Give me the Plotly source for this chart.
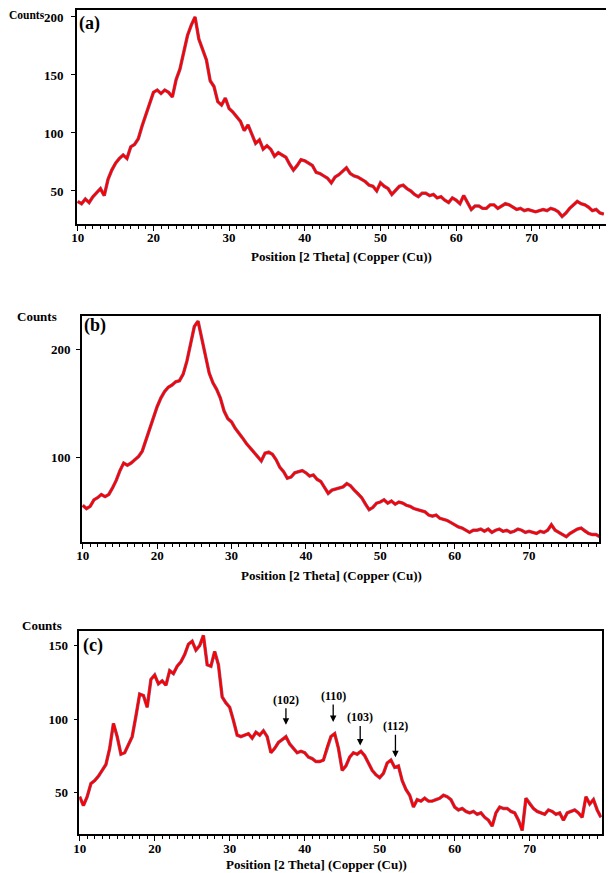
import numpy as np
import plotly.graph_objects as go

# 2-theta grid (degrees), 0.5 deg steps
two_theta = np.arange(10, 80, 0.5)

# counts
counts_a = [41, 39, 43, 40, 45, 49, 52, 46, 60, 68,
            74, 78, 81, 78, 88, 90, 95, 106, 116, 124,
            135, 137, 134, 137, 135, 131, 146, 155, 170, 184,
            193, 200, 181, 172, 163, 145, 140, 127, 124, 130,
            121, 118, 114, 110, 102, 107, 99, 91, 94, 86,
            89, 86, 80, 83, 81, 79, 73, 68, 72, 77,
            76, 74, 72, 66, 65, 63, 61, 57, 62, 64,
            67, 70, 65, 63, 62, 60, 58, 55, 54, 50,
            57, 54, 52, 47, 51, 54, 55, 52, 50, 47,
            45, 48, 48, 46, 47, 44, 45, 42, 40, 44,
            42, 39, 46, 40, 34, 37, 37, 35, 35, 38,
            38, 35, 37, 39, 38, 36, 34, 35, 33, 34,
            33, 32, 33, 34, 33, 35, 34, 32, 28, 31,
            35, 38, 41, 39, 38, 36, 33, 34, 31, 30]

counts_b = [56, 53, 55, 61, 63, 66, 64, 66, 72, 79,
            88, 95, 93, 95, 98, 101, 106, 116, 128, 138,
            147, 155, 161, 165, 167, 170, 171, 177, 189, 205,
            221, 226, 209, 193, 178, 169, 163, 155, 143, 136,
            133, 127, 123, 118, 113, 109, 104, 100, 97, 104,
            105, 103, 98, 91, 87, 81, 82, 86, 87, 88,
            86, 83, 84, 80, 78, 73, 67, 70, 71, 72,
            73, 76, 74, 70, 67, 63, 57, 52, 54, 58,
            59, 61, 58, 60, 57, 59, 58, 56, 55, 53,
            52, 51, 50, 47, 46, 47, 44, 43, 42, 40,
            38, 36, 35, 33, 31, 33, 33, 34, 32, 34,
            31, 33, 34, 32, 33, 31, 32, 34, 33, 31,
            32, 31, 30, 32, 31, 33, 38, 33, 31, 29,
            27, 30, 32, 34, 35, 32, 30, 29, 29, 27]

counts_c = [47, 41, 47, 56, 58, 61, 65, 69, 80, 97,
            88, 76, 77, 82, 88, 102, 117, 116, 108, 127,
            130, 124, 126, 123, 133, 131, 136, 139, 144, 151,
            153, 147, 150, 157, 137, 136, 146, 137, 115, 111,
            108, 99, 89, 88, 89, 90, 87, 91, 89, 92,
            88, 77, 80, 84, 86, 88, 83, 80, 77, 78,
            77, 74, 73, 71, 71, 72, 81, 88, 90, 80,
            65, 68, 74, 77, 76, 78, 75, 70, 65, 62,
            60, 63, 70, 72, 67, 68, 58, 52, 48, 40,
            45, 44, 46, 44, 44, 45, 46, 48, 47, 45,
            40, 38, 39, 37, 36, 37, 35, 36, 33, 31,
            27, 36, 40, 39, 39, 37, 36, 31, 24, 46,
            42, 39, 37, 36, 35, 38, 37, 35, 36, 31,
            36, 37, 38, 36, 33, 47, 42, 45, 38, 33]

# peak labels in pattern (c)
peak_labels = ["(102)", "(110)", "(103)", "(112)"]
peak_pos = [37.5, 43.8, 47.4, 52.1]
peak_tip = [96, 98, 82, 74]
peak_offset = [-25, -26, -28, -31]

# page body has an 8px margin, so the figure is 8px smaller than the window
OFF = 8
W, H = 614 - OFF, 873 - OFF
FONT = "Liberation Serif"


def fx(p):
    return (p - OFF) / W


def fy(p):
    return 1 - (p - OFF) / H


fig = go.Figure()

panels = [
    (counts_a, "x", "y"),
    (counts_b, "x2", "y2"),
    (counts_c, "x3", "y3"),
]
for vals, xa, ya in panels:
    fig.add_trace(go.Scatter(x=two_theta, y=vals, mode="lines", xaxis=xa, yaxis=ya,
                             line=dict(color="#8a5a80", width=3.4), hoverinfo="skip"))
    fig.add_trace(go.Scatter(x=two_theta, y=vals, mode="lines", xaxis=xa, yaxis=ya,
                             line=dict(color="#ff0000", width=2.2)))

tickfont = dict(family=FONT, size=13, color="black", weight="bold")


def xax(dom, rng, anchor):
    return dict(domain=dom, range=rng, anchor=anchor, showline=True, mirror=True,
                linecolor="black", linewidth=1.6, showgrid=False, zeroline=False,
                tick0=10, dtick=10, ticks="outside", ticklen=5, tickcolor="black",
                tickfont=tickfont, ticklabelstandoff=-4, automargin=False,
                minor=dict(dtick=1, ticks="outside", ticklen=3, tickcolor="black"))


def yax(dom, rng, vals, anchor, standoff):
    return dict(domain=dom, range=rng, anchor=anchor, showline=True, mirror=True,
                linecolor="black", linewidth=1.6, showgrid=False, zeroline=False,
                tickvals=vals, ticks="outside", ticklen=4, tickcolor="black",
                tickfont=tickfont, ticklabelstandoff=standoff, automargin=False)


fig.update_layout(
    width=W, height=H, margin=dict(l=0, r=0, t=0, b=0),
    plot_bgcolor="white", paper_bgcolor="white", showlegend=False,
    xaxis=xax([fx(77), fx(606)], [9.9, 79.8], "y"),
    yaxis=yax([fy(224), fy(10)], [21.5, 206], [50, 100, 150, 200], "x", 5),
    xaxis2=xax([fx(82), fx(599)], [9.9, 79.4], "y2"),
    yaxis2=yax([fy(541.7), fy(315.7)], [22.4, 231], [100, 200], "x2", 3),
    xaxis3=xax([fx(79.3), fx(601.7)], [9.95, 79.6], "y3"),
    yaxis3=yax([fy(834.3), fy(630.7)], [21.4, 160.2], [50, 100, 150], "x3", 3),
)

ann = []
bold13 = dict(family=FONT, size=13, color="black", weight="bold")
bold17 = dict(family=FONT, size=18, color="black", weight="bold")


def label(text, cx, cy, font):
    return dict(text=text, x=fx(cx), y=fy(cy), xref="paper", yref="paper",
                xanchor="center", yanchor="middle", showarrow=False, font=font)


# top "Counts" sits as high and as far left as the page allows
ann.append(label("Counts", 27, 15, dict(bold13, size=11.5)))
for cx, cy in [(37, 316), (42, 625)]:
    ann.append(label("Counts", cx, cy, bold13))
for cx, cy in [(341.5, 256), (331, 575), (316, 864)]:
    ann.append(label("Position [2 Theta] (Copper (Cu))", cx, cy, bold13))
for lab, cx, cy in [("(a)", 89, 24), ("(b)", 95, 325), ("(c)", 93, 645)]:
    ann.append(label(lab, cx, cy, bold17))
for lab, px_, tip, off in zip(peak_labels, peak_pos, peak_tip, peak_offset):
    ann.append(dict(text=lab, x=px_, y=tip, xref="x3", yref="y3", showarrow=True,
                    ax=0, ay=off, arrowhead=2, arrowsize=1, arrowwidth=1.3,
                    arrowcolor="black", font=dict(family=FONT, size=12, color="black", weight="bold")))
fig.update_layout(annotations=ann)

fig.write_html("out.html")
